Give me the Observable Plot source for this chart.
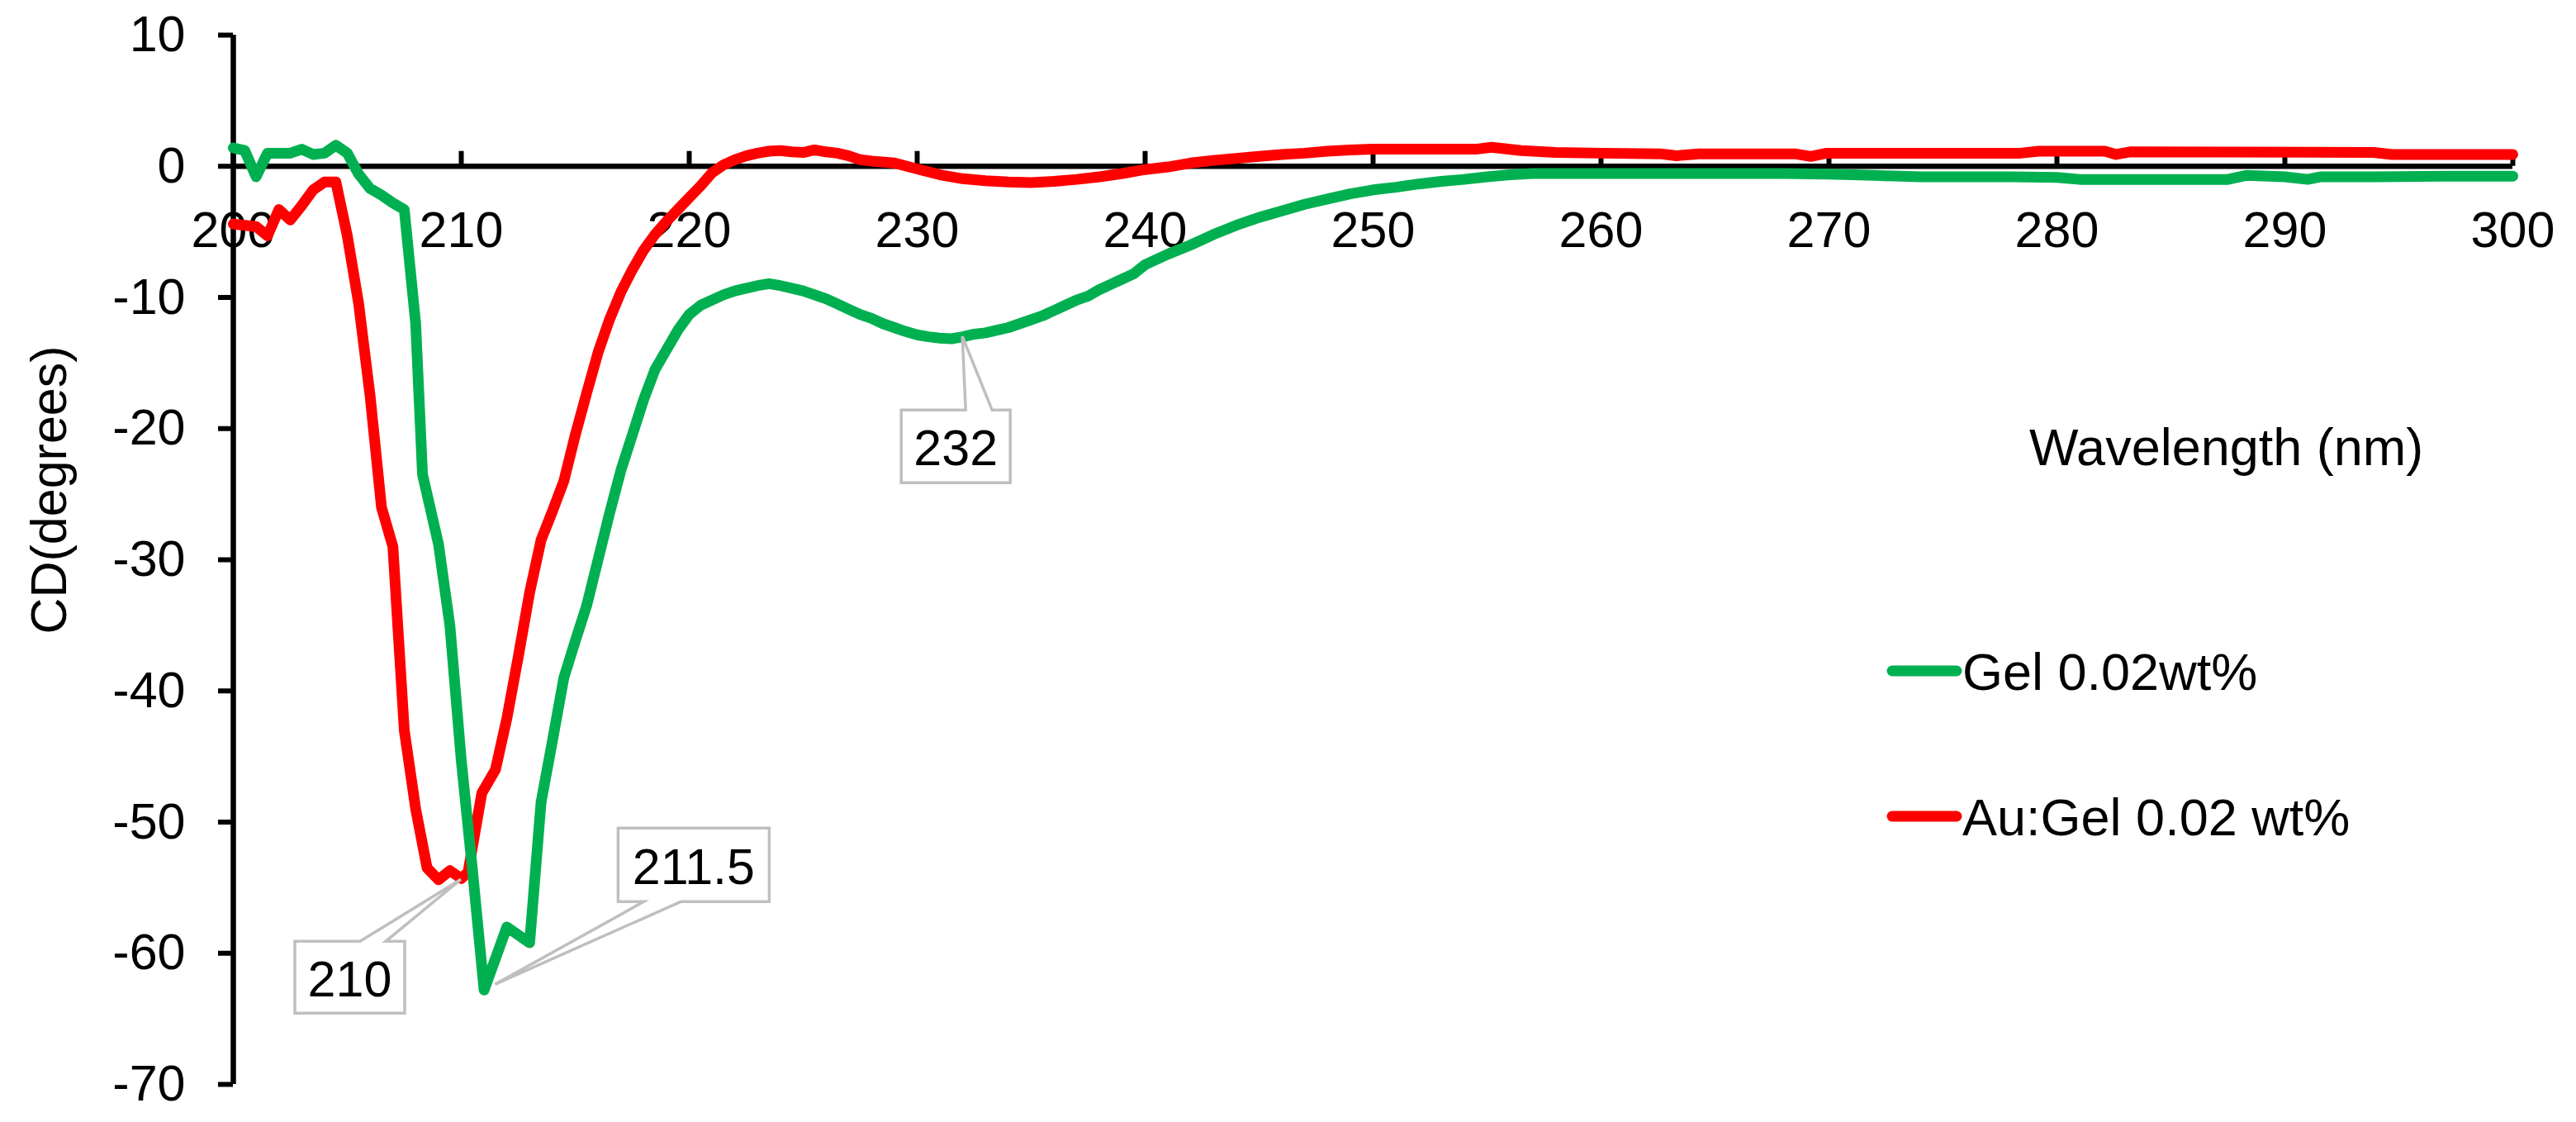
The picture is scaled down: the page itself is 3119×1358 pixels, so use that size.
<!DOCTYPE html>
<html><head><meta charset="utf-8">
<script src="https://cdn.jsdelivr.net/npm/d3@7"></script>
<script src="https://cdn.jsdelivr.net/npm/@observablehq/plot@0.6"></script>
<style>html,body{margin:0;padding:0;background:#fff;} svg{display:block}</style>
</head><body><div id="chart"></div>
<script>
// ---- data ----
const gelX = [200,200.5,201,201.5,202,202.5,203,203.5,204,204.5,205,205.5,206,206.5,207,207.5,208,208.3,209,209.5,210,210.5,211,212,213,213.5,214,214.5,215,215.5,216,216.5,217,217.5,218,218.5,219,219.5,220,220.5,221,221.5,222,222.5,223,223.5,224,224.5,225,225.5,226,226.5,227,227.5,228,228.5,229,229.5,230,230.5,231,231.5,232,232.5,233,233.5,234,234.5,235,235.5,236,236.5,237,237.5,238,238.5,239,239.5,240,241,242,243,244,245,246,247,248,249,250,251,252,253,254,255,256,257,258,260,262,264,266,268,270,272,274,276,278,280,281,283,285,287.5,288.3,290,291,291.6,294,297,300];
const gelY = [1.4,1.2,-0.8,1.0,1.0,1.0,1.3,0.9,1.0,1.6,1.0,-0.6,-1.7,-2.2,-2.8,-3.3,-12.0,-23.5,-28.8,-35.0,-45.3,-53.8,-62.8,-58.0,-59.2,-48.5,-43.8,-39.0,-36.2,-33.5,-30.0,-26.5,-23.2,-20.5,-17.8,-15.5,-14.0,-12.5,-11.3,-10.6,-10.2,-9.8,-9.5,-9.3,-9.1,-8.95,-9.1,-9.3,-9.5,-9.8,-10.1,-10.5,-10.9,-11.3,-11.6,-12.0,-12.3,-12.6,-12.85,-13.0,-13.1,-13.15,-13.0,-12.8,-12.7,-12.5,-12.3,-12.0,-11.7,-11.4,-11.0,-10.6,-10.2,-9.9,-9.4,-9.0,-8.6,-8.2,-7.5,-6.7,-6.0,-5.2,-4.5,-3.9,-3.4,-2.9,-2.5,-2.1,-1.8,-1.6,-1.35,-1.15,-1.0,-0.8,-0.65,-0.55,-0.55,-0.55,-0.55,-0.55,-0.55,-0.55,-0.6,-0.7,-0.8,-0.8,-0.8,-0.85,-1.0,-1.0,-1.0,-1.0,-0.7,-0.8,-1.0,-0.8,-0.8,-0.75,-0.75];
const auX = [200,200.5,201,201.5,202,202.5,203,203.5,204,204.5,205,205.5,206,206.5,207,207.5,208,208.5,209,209.5,210,210.3,210.9,211.5,212,212.5,213,213.5,214,214.5,215,215.5,216,216.5,217,217.5,218,218.5,219,219.5,220,220.5,221,221.5,222,222.5,223,223.5,224,224.5,225,225.5,226,226.5,227,227.5,228,229,230,231,232,233,234,235,236,237,238,239,240,241,242,243,244,245,246,247,248,249,250,252,254.5,255.2,256.5,258,260,262.6,263.3,264.3,268.5,269.2,269.9,278.4,279.2,282.1,282.6,283.2,293.9,294.7,300];
const auY = [-4.4,-4.5,-4.6,-5.3,-3.3,-4.1,-3.0,-1.8,-1.2,-1.2,-5.3,-10.5,-17.5,-26.0,-29.0,-43.0,-49.0,-53.5,-54.4,-53.7,-54.3,-53.8,-47.8,-46.0,-42.1,-37.4,-32.5,-28.5,-26.3,-24.0,-20.5,-17.3,-14.2,-11.7,-9.6,-7.9,-6.4,-5.2,-4.2,-3.3,-2.4,-1.5,-0.5,0.1,0.5,0.8,1.0,1.15,1.2,1.1,1.05,1.25,1.1,1.0,0.8,0.5,0.4,0.25,-0.2,-0.65,-0.95,-1.1,-1.2,-1.25,-1.15,-1.0,-0.8,-0.55,-0.25,-0.05,0.25,0.45,0.6,0.75,0.9,1.0,1.15,1.25,1.3,1.3,1.3,1.45,1.2,1.05,1.0,0.95,0.8,0.95,0.95,0.75,1.0,1.0,1.15,1.15,0.9,1.1,1.05,0.9,0.9];
const seriesNames = ["Gel 0.02wt%", "Au:Gel 0.02 wt%"];
const seriesColors = ["#00B050", "#FF0000"];
const xTicks = [200,210,220,230,240,250,260,270,280,290,300];
const yTicks = [10,0,-10,-20,-30,-40,-50,-60,-70];
const annX = [210, 211.5, 232];
const annY = [-54.4, -62.4, -13.0];
const annText = ["210", "211.5", "232"];
const xTitle = "Wavelength (nm)";
const yTitle = "CD(degrees)";

// ---- layout ----
const W = 3119, H = 1358, ML = 282, MR = 77, MT = 42, MB = 46;
const FONT = "'Liberation Sans', Arial, sans-serif";
const LINE_W = 13, AXIS_W = 6.5;
const gel = gelX.map((x, i) => ({x, y: gelY[i]}));
const au = auX.map((x, i) => ({x, y: auY[i]}));

const plot = Plot.plot({
  width: W, height: H,
  marginLeft: ML, marginRight: MR, marginTop: MT, marginBottom: MB,
  style: {fontFamily: FONT, background: "#fff", color: "#000", overflow: "visible"},
  x: {domain: [200, 300], axis: null},
  y: {domain: [-70, 10]},
  marks: [
    Plot.axisY({ticks: yTicks, tickSize: 18, tickPadding: 40, fontSize: 61, strokeWidth: 6, stroke: "#000", fill: "#000", label: null, tickFormat: d => String(d)}),
    Plot.ruleX([200], {y1: -70, y2: 10, stroke: "#000", strokeWidth: AXIS_W}),
    Plot.ruleY([0], {x1: 200, x2: 300, stroke: "#000", strokeWidth: AXIS_W}),
    Plot.ruleX(xTicks, {x: d => d, y1: 0, y2: 0, insetTop: -18, stroke: "#000", strokeWidth: 6}),
    Plot.text(xTicks, {x: d => d, y: 0, text: d => String(d), dy: 54, lineAnchor: "top", textAnchor: "middle", fontSize: 61, fill: "#000"}),
    Plot.line(au, {x: "x", y: "y", stroke: seriesColors[1], strokeWidth: LINE_W, strokeLinejoin: "round"}),
    Plot.line(gel, {x: "x", y: "y", stroke: seriesColors[0], strokeWidth: LINE_W, strokeLinejoin: "round"})
  ]
});
document.getElementById("chart").appendChild(plot);

const sx = plot.scale("x"), sy = plot.scale("y");
const X = d3.scaleLinear().domain(sx.domain).range(sx.range);
const Y = d3.scaleLinear().domain(sy.domain).range(sy.range);
const svg = d3.select(plot);

// callouts: box offsets relative to the tip (left, right, top, bottom), wedge side and base
const callouts = [
  {box: [-201, -68, 75, 162], side: "top", base: [-122, -91]},
  {box: [149, 332, -189, -100], side: "bottom", base: [180, 225]},
  {box: [-74, 58, 89, 177], side: "top", base: [4, 36]}
];
const cg = svg.append("g");
annX.forEach((ax, i) => {
  const tx = X(ax), ty = Y(annY[i]);
  const c = callouts[i];
  const L = tx + c.box[0], R = tx + c.box[1], T = ty + c.box[2], B = ty + c.box[3];
  const a = tx + c.base[0], b = tx + c.base[1];
  let p;
  if (c.side === "top") p = `M${L},${T}L${a},${T}L${tx},${ty}L${b},${T}L${R},${T}L${R},${B}L${L},${B}Z`;
  else p = `M${L},${T}L${R},${T}L${R},${B}L${b},${B}L${tx},${ty}L${a},${B}L${L},${B}Z`;
  cg.append("path").attr("d", p).attr("fill", "#fff").attr("stroke", "#BFBFBF").attr("stroke-width", 3.5).attr("stroke-linejoin", "miter");
  cg.append("text").attr("x", (L + R) / 2).attr("y", (T + B) / 2 + 23)
    .attr("text-anchor", "middle").attr("font-family", FONT).attr("font-size", 61).attr("fill", "#000").text(annText[i]);
});

// axis titles
svg.append("text").attr("x", 2457).attr("y", 563).attr("text-anchor", "start").attr("font-family", FONT).attr("font-size", 63).attr("fill", "#000").text(xTitle);
svg.append("text").attr("transform", "translate(80,593) rotate(-90)").attr("text-anchor", "middle")
  .attr("font-family", FONT).attr("font-size", 61).attr("fill", "#000").text(yTitle);

// legend
const lg = svg.append("g");
const legY = [812, 988];
seriesNames.forEach((name, i) => {
  lg.append("line").attr("x1", 2291).attr("x2", 2369).attr("y1", legY[i]).attr("y2", legY[i])
    .attr("stroke", seriesColors[i]).attr("stroke-width", 13).attr("stroke-linecap", "round");
  lg.append("text").attr("x", 2376).attr("y", legY[i] + 23).attr("text-anchor", "start").attr("font-family", FONT).attr("font-size", 63).attr("fill", "#000").text(name);
});
</script></body></html>
